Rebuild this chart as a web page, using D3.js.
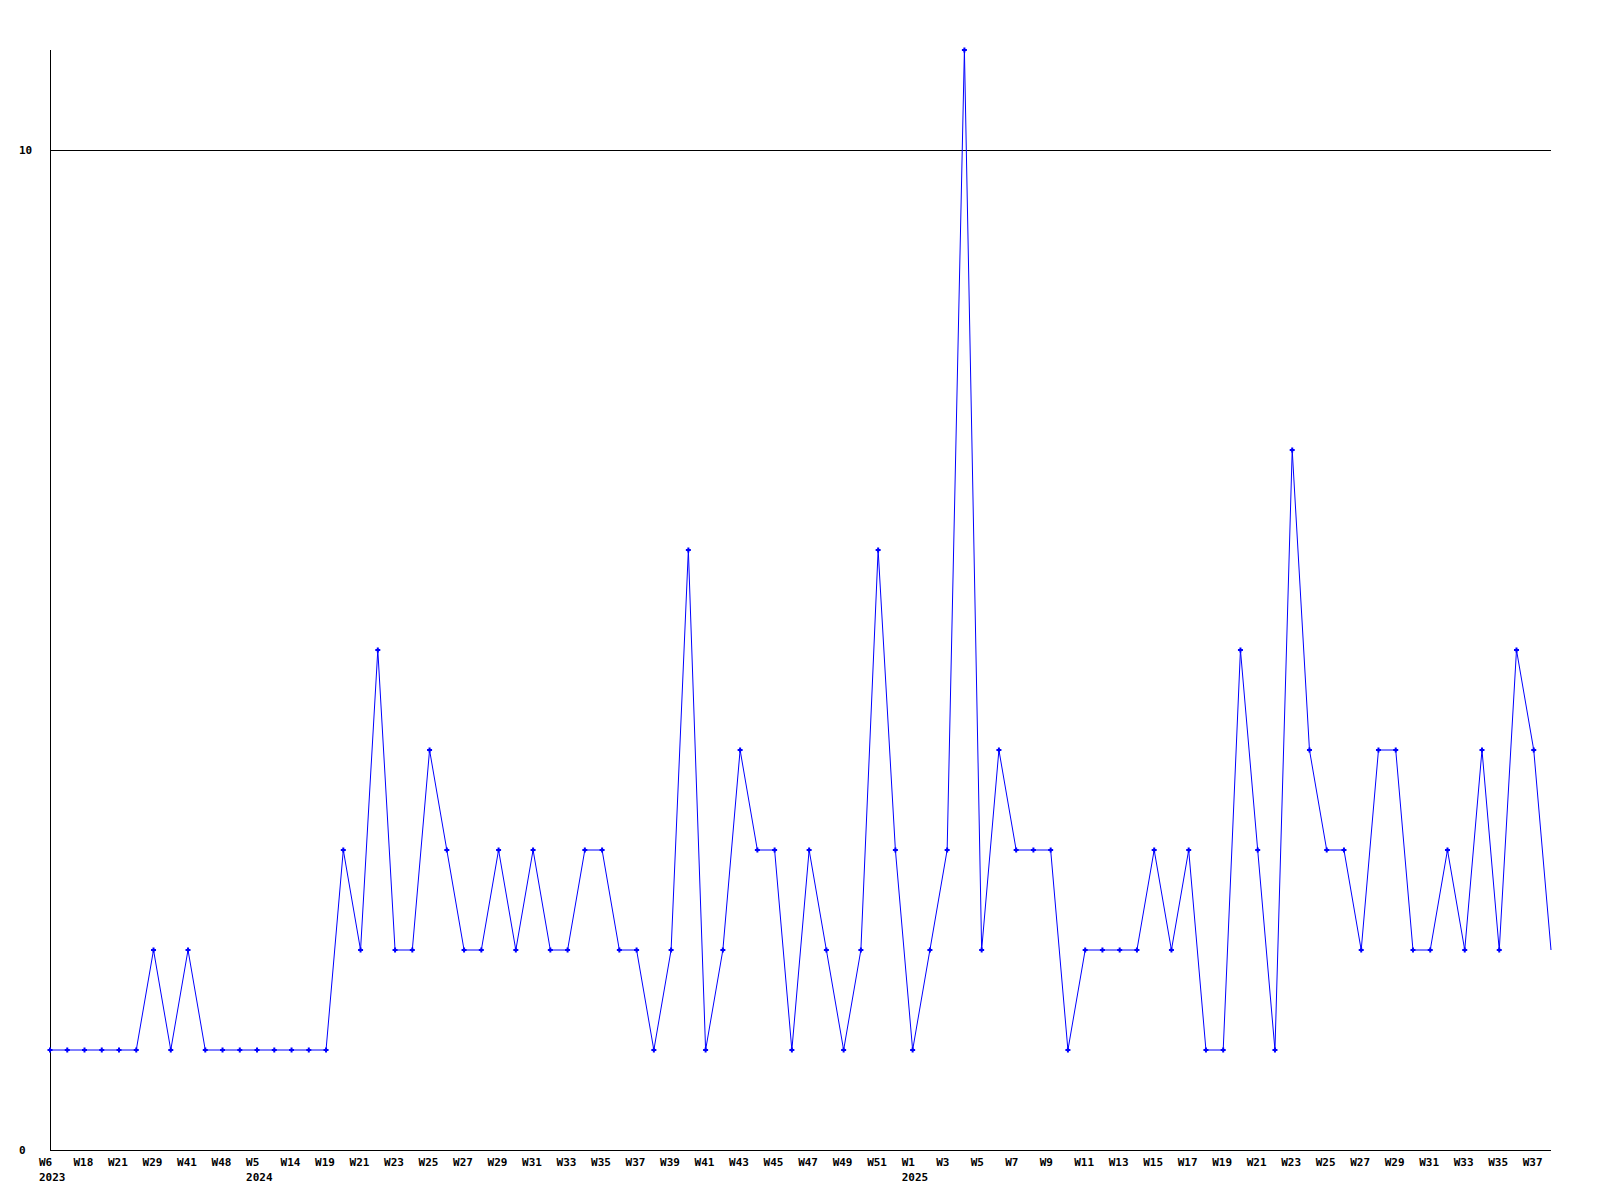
<!DOCTYPE html>
<html>
<head>
<meta charset="utf-8">
<script src="https://cdn.jsdelivr.net/npm/d3@7"></script>
<style>
  html, body { margin: 0; padding: 0; background: #fff; }
  svg { display: block; }
  .lbl { font-family: "DejaVu Sans Mono", "Liberation Mono", monospace; font-weight: bold; font-size: 11px; fill: #000; }
</style>
</head>
<body>
<div id="chart"></div>
<script>
// one point per week that has data
const weeks = [
  "2023-W6", "2023-W12", "2023-W18", "2023-W20", "2023-W21", "2023-W25",
  "2023-W29", "2023-W35", "2023-W41", "2023-W45", "2023-W48", "2023-W50",
  "2024-W5", "2024-W9", "2024-W14", "2024-W17", "2024-W19", "2024-W20",
  "2024-W21", "2024-W22", "2024-W23", "2024-W24", "2024-W25", "2024-W26",
  "2024-W27", "2024-W28", "2024-W29", "2024-W30", "2024-W31", "2024-W32",
  "2024-W33", "2024-W34", "2024-W35", "2024-W36", "2024-W37", "2024-W38",
  "2024-W39", "2024-W40", "2024-W41", "2024-W42", "2024-W43", "2024-W44",
  "2024-W45", "2024-W46", "2024-W47", "2024-W48", "2024-W49", "2024-W50",
  "2024-W51", "2024-W52",
  "2025-W1", "2025-W2", "2025-W3", "2025-W4", "2025-W5", "2025-W6",
  "2025-W7", "2025-W8", "2025-W9", "2025-W10", "2025-W11", "2025-W12",
  "2025-W13", "2025-W14", "2025-W15", "2025-W16", "2025-W17", "2025-W18",
  "2025-W19", "2025-W20", "2025-W21", "2025-W22", "2025-W23", "2025-W24",
  "2025-W25", "2025-W26", "2025-W27", "2025-W28", "2025-W29", "2025-W30",
  "2025-W31", "2025-W32", "2025-W33", "2025-W34", "2025-W35", "2025-W36",
  "2025-W37", "2025-W38"
];

const counts = [
  1, 1, 1, 1, 1, 1, 2, 1, 2, 1, 1, 1,
  1, 1, 1, 1, 1, 3, 2, 5, 2, 2, 4, 3, 2, 2, 3, 2, 3, 2, 2, 3, 3, 2, 2, 1,
  2, 6, 1, 2, 4, 3, 3, 1, 3, 2, 1, 2, 6, 3,
  1, 2, 3, 11, 2, 4, 3, 3, 3, 1, 2, 2, 2, 2, 3, 2, 3, 1, 1, 5, 3, 1,
  7, 4, 3, 3, 2, 4, 4, 2, 2, 3, 2, 4, 2, 5, 4, 2
];

const yTicks = [0, 10];
const yGrid = [10];
const yMax = 11;

const width = 1600, height = 1200;
const margin = {top: 50, right: 49, bottom: 50, left: 50};

let svg = d3.select("#chart").append("svg")
  .attr("width", width)
  .attr("height", height);

let x = d3.scalePoint()
  .domain(weeks)
  .range([margin.left, width - margin.right]);

let y = d3.scaleLinear()
  .domain([0, yMax])
  .range([height - margin.bottom, margin.top]);

// grid line(s)
svg.append("g").selectAll("line").data(yGrid).enter()
  .append("line")
  .attr("x1", margin.left).attr("x2", width - margin.right)
  .attr("y1", d => Math.round(y(d)) + 0.5).attr("y2", d => Math.round(y(d)) + 0.5)
  .attr("stroke", "#000")
  .attr("shape-rendering", "crispEdges");

// axes drawn as plain lines, labels placed by hand
let x0 = margin.left + 0.5, yb = Math.round(y(0)) + 0.5;
svg.append("line")
  .attr("x1", x0).attr("x2", x0)
  .attr("y1", y(yMax)).attr("y2", yb)
  .attr("stroke", "#000").attr("shape-rendering", "crispEdges");
svg.append("line")
  .attr("x1", x0).attr("x2", width - margin.right)
  .attr("y1", yb).attr("y2", yb)
  .attr("stroke", "#000").attr("shape-rendering", "crispEdges");

svg.append("g").selectAll("text").data(yTicks).enter()
  .append("text")
  .attr("class", "lbl")
  .attr("x", 19)
  .attr("y", d => y(d) + 4)
  .text(d => d);

// every other week gets a label, first week of a year gets the year below
let xLab = svg.append("g");
weeks.forEach(function(w, i) {
  if (i % 2 !== 0) return;
  let parts = w.split("-");
  let px = x(w) - 11;
  xLab.append("text").attr("class", "lbl")
    .attr("x", px).attr("y", height - margin.bottom + 16)
    .text(parts[1]);
  let prev = i > 0 ? weeks[i - 1].split("-")[0] : null;
  if (prev !== parts[0]) {
    xLab.append("text").attr("class", "lbl")
      .attr("x", px).attr("y", height - margin.bottom + 31)
      .text(parts[0]);
  }
});

let line = d3.line()
  .x((d, i) => x(weeks[i]))
  .y(d => y(d));

svg.append("path")
  .datum(counts)
  .attr("fill", "none")
  .attr("stroke", "#0000ff")
  .attr("stroke-width", 1)
  .attr("d", line);

// small plus-shaped markers, the last one sits on the edge and is not drawn
const marker = "M-1,-2.5h2v1.5h1.5v2h-1.5v1.5h-2v-1.5h-1.5v-2h1.5z";
svg.append("g").selectAll("path")
  .data(counts.slice(0, counts.length - 1)).enter()
  .append("path")
  .attr("d", marker)
  .attr("fill", "#0000ff")
  .attr("transform", (d, i) => "translate(" + x(weeks[i]) + "," + y(d) + ")");
</script>
</body>
</html>
